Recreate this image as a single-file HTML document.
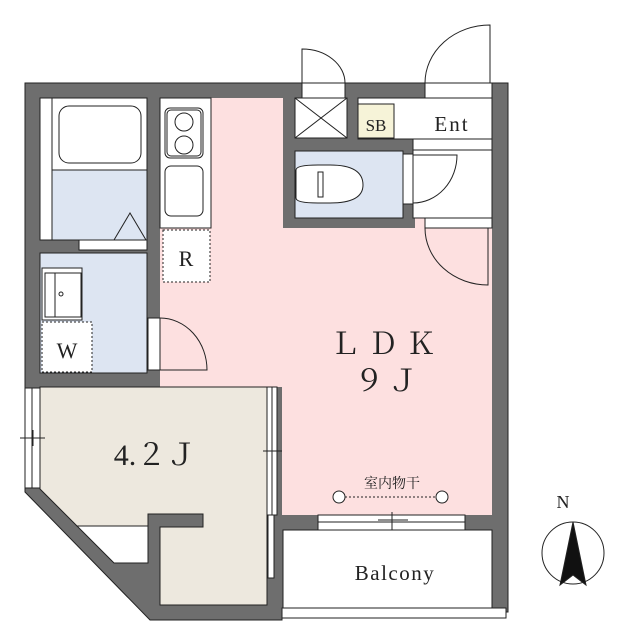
<!DOCTYPE html>
<html><head><meta charset="utf-8"><style>body{margin:0;background:#fff}svg{display:block}text{font-family:"Liberation Serif","Noto Serif CJK SC",serif;fill:#222}</style></head><body>
<svg width="627" height="640" viewBox="0 0 627 640" xmlns="http://www.w3.org/2000/svg">
<g stroke="#222" stroke-width="1">
<polygon points="25,83 302,83 302,98 345,98 345,83 425,83 425,98 492,98 492,83 508,83 508,612 282,612 282,620 150,620 25,492" fill="#6e6e6e"/>
<polygon points="211,98 283,98 283,228 415,228 415,218 492,218 492,515 282,515 282,387 160,387 160,282 211,282" fill="#fde0e0" stroke="none"/>
<rect x="160" y="228" width="51" height="145" fill="#fde0e0" stroke="none"/>
<rect x="160" y="98" width="51" height="130" fill="#fff"/>
<rect x="165" y="108" width="38" height="50" rx="5" fill="#fff"/>
<rect x="167" y="110" width="34" height="46" rx="4" fill="none"/>
<circle cx="184" cy="122" r="9" fill="none"/><circle cx="184" cy="145" r="9" fill="none"/>
<rect x="165" y="166" width="38" height="50" rx="6" fill="#fff"/>
<rect x="163" y="230" width="47" height="52" fill="#fff" stroke-dasharray="2,2"/>
<rect x="40" y="98" width="107" height="142" fill="#dde5f2"/>
<rect x="40" y="98" width="12" height="142" fill="#fff"/>
<rect x="52" y="98" width="95" height="72" fill="#fff"/>
<rect x="59" y="106" width="82" height="57" rx="10" fill="#fff"/>
<polyline points="114,240 130,213 146,240" fill="none"/>
<rect x="79" y="240" width="68" height="10" fill="#fff"/>
<rect x="40" y="253" width="107" height="120" fill="#dde5f2"/>
<rect x="42" y="268" width="40" height="52" fill="#fff"/>
<rect x="45" y="273" width="36" height="44" fill="#fff"/>
<line x1="55" y1="273" x2="55" y2="317"/>
<circle cx="61" cy="294" r="2" fill="none"/>
<rect x="42" y="322" width="50" height="50" fill="#fff" stroke-dasharray="2,2"/>
<rect x="148" y="318" width="12" height="52" fill="#fff"/>
<path d="M160,318 A47,52 0 0 1 207,370 L160,370" fill="none"/>
<polygon points="40,387 267,387 267,605 160,605 160,527 203,527 203,514 148,514 148,526 77,526 40,489" fill="#ede8de"/>
<polygon points="77,526 148,526 148,563 114,563" fill="#fff"/>
<rect x="25" y="388" width="15" height="100" fill="#fff"/><line x1="32" y1="388" x2="32" y2="488"/>
<line x1="20" y1="438" x2="45" y2="438"/><line x1="33" y1="430" x2="33" y2="446"/>
<rect x="267" y="387" width="10" height="128" fill="#fff"/><line x1="272" y1="387" x2="272" y2="515"/>
<line x1="263" y1="451" x2="282" y2="451"/><line x1="272" y1="440" x2="272" y2="465"/>
<rect x="268" y="515" width="6" height="63" fill="#fff"/>
<rect x="318" y="515" width="147" height="15" fill="#fff"/><line x1="318" y1="522" x2="465" y2="522"/>
<line x1="378" y1="520" x2="408" y2="520"/><line x1="392" y1="512" x2="392" y2="534"/>
<rect x="283" y="530" width="209" height="78" fill="#fff"/>
<rect x="282" y="608" width="224" height="10" fill="#fff"/>
<rect x="295" y="98" width="52" height="40" fill="#fff"/>
<line x1="295" y1="98" x2="347" y2="138"/><line x1="347" y1="98" x2="295" y2="138"/>
<rect x="358" y="98" width="134" height="41" fill="#fff"/>
<rect x="358" y="104" width="36" height="34" fill="#f6f3d8"/>
<rect x="295" y="151" width="108" height="67" fill="#dde5f2"/>
<path d="M318,165 L330,165 Q363,165 363,185 Q363,203 330,203 L318,203 Q296,203 296,198 L296,170 Q296,165 318,165Z" fill="#fff"/>
<rect x="318" y="172" width="5" height="25" fill="#fff"/>
<rect x="403" y="154" width="10" height="50" fill="#fff"/>
<rect x="413" y="139" width="79" height="79" fill="#fff"/>
<line x1="413" y1="150" x2="492" y2="150"/>
<path d="M413,155 L457,155 A44,48 0 0 1 413,203" fill="none"/>
<rect x="425" y="218" width="67" height="10" fill="#fff"/>
<path d="M488,228 L488,285 A63,57 0 0 1 425,228" fill="none"/>
<rect x="302" y="83" width="43" height="15" fill="#fff"/>
<path d="M302,83 L302,49 A43,34 0 0 1 345,83" fill="none"/>
<rect x="425" y="83" width="67" height="15" fill="#fff"/>
<path d="M490,83 L490,25 A65,58 0 0 0 425,83" fill="none"/>
<line x1="341" y1="497" x2="442" y2="497" stroke-dasharray="2,2"/>
<circle cx="339" cy="497" r="6" fill="#fff"/><circle cx="442" cy="497" r="6" fill="#fff"/>
<circle cx="573" cy="553" r="31" fill="#fff"/>
<polygon points="573,522 560,585 573,575 586,585" fill="#111"/>
</g>
<text x="387" y="354" font-size="30" text-anchor="middle" letter-spacing="8">ＬＤＫ</text>
<text x="388" y="391" font-size="30" text-anchor="middle" letter-spacing="4">９Ｊ</text>
<text x="155" y="465" font-size="30" text-anchor="middle">4.２Ｊ</text>
<text x="392" y="488" font-size="14" text-anchor="middle" font-family="Noto Sans CJK JP,sans-serif">室内物干</text>
<text x="395" y="580" font-size="21" text-anchor="middle" letter-spacing="1.5">Balcony</text>
<text x="376" y="131" font-size="17" text-anchor="middle">SB</text>
<text x="452" y="131" font-size="21" text-anchor="middle" letter-spacing="2">Ent</text>
<text x="186" y="266" font-size="22" text-anchor="middle">R</text>
<text x="67" y="358" font-size="22" text-anchor="middle">W</text>
<text x="563" y="508" font-size="18" text-anchor="middle">N</text>
</svg>
</body></html>
